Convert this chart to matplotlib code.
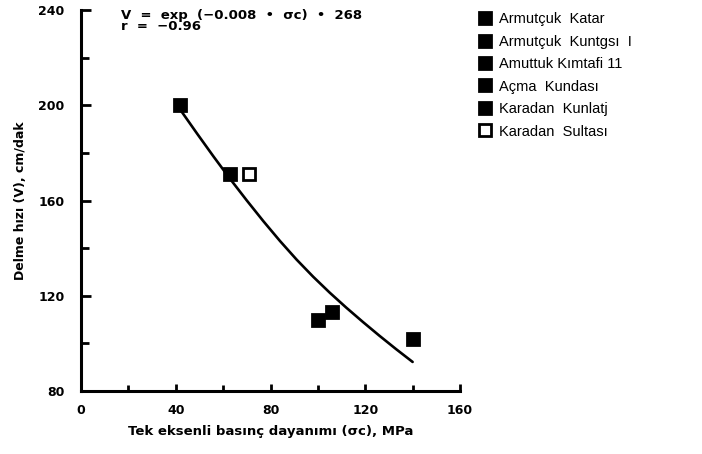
import matplotlib

matplotlib.use("Agg")
import matplotlib.pyplot as plt
from matplotlib.ticker import MultipleLocator

# Data
labels = [
    "Armutçuk  Katar",
    "Armutçuk  Kuntgsı  I",
    "Amuttuk Kımtafi 11",
    "Açma  Kundası",
    "Karadan  Kunlatj",
    "Karadan  Sultası",
]
sigma_c = [42, 63, 100, 106, 140, 71]
drill_rate = [200, 171, 110, 113, 102, 171]

# fitted curve
curve_x = [42, 49, 56, 63, 70, 77, 84, 91, 98, 105, 112, 119, 126, 133, 140]
curve_y = [198, 188.1, 178.4, 169, 160, 151.3, 143, 135.2, 128, 121.3, 115, 109, 103.2, 97.6, 92.2]

marker_face = ["black", "black", "black", "black", "black", "white"]

fig = plt.figure(figsize=(7.02, 4.54), dpi=100)
ax = fig.add_axes([81 / 702, 63 / 454, 379 / 702, 381 / 454])

ax.plot(curve_x, curve_y, color="black", linewidth=1.9, solid_capstyle="round")
for x, y, lab, fc in zip(sigma_c, drill_rate, labels, marker_face):
    ax.plot(x, y, linestyle="none", marker="s", markersize=8,
            markerfacecolor=fc, markeredgecolor="black", markeredgewidth=2.0,
            label=lab)

ax.set_xlim(0, 160)
ax.set_ylim(80, 240)
ax.xaxis.set_major_locator(MultipleLocator(40))
ax.xaxis.set_minor_locator(MultipleLocator(20))
ax.yaxis.set_major_locator(MultipleLocator(40))
ax.yaxis.set_minor_locator(MultipleLocator(20))

for side in ("top", "right"):
    ax.spines[side].set_visible(False)
for side in ("left", "bottom"):
    ax.spines[side].set_linewidth(2.2)

ax.tick_params(which="both", direction="in", width=2.0, labelsize=9)
ax.tick_params(axis="y", which="major", length=7, pad=12)
ax.tick_params(axis="y", which="minor", length=6)
ax.tick_params(axis="x", which="major", length=5, pad=9)
ax.tick_params(axis="x", which="minor", length=4)
for t in ax.get_xticklabels() + ax.get_yticklabels():
    t.set_fontweight("bold")

ax.set_xlabel("Tek eksenli basınç dayanımı (σc), MPa", fontsize=9.5,
              fontweight="bold", labelpad=6)
ax.set_ylabel("Delme hızı (V), cm/dak", fontsize=9, fontweight="bold",
              labelpad=8)

ax.text(121 / 702, 439 / 454, "V  =  exp  (−0.008  •  σc)  •  268",
        transform=fig.transFigure, fontsize=9.5, fontweight="bold",
        va="center", ha="left")
ax.text(121 / 702, 427 / 454, "r  =  −0.96", transform=fig.transFigure,
        fontsize=9.5, fontweight="bold", va="center", ha="left")

fig.legend(loc="upper left", bbox_to_anchor=(467 / 702, 452 / 454), frameon=False,
           labelspacing=0.58, handlelength=1.0, handletextpad=0.5,
           borderaxespad=0.3, prop={"family": "Liberation Sans", "size": 10.5})

fig.savefig("out.png", dpi=100)
